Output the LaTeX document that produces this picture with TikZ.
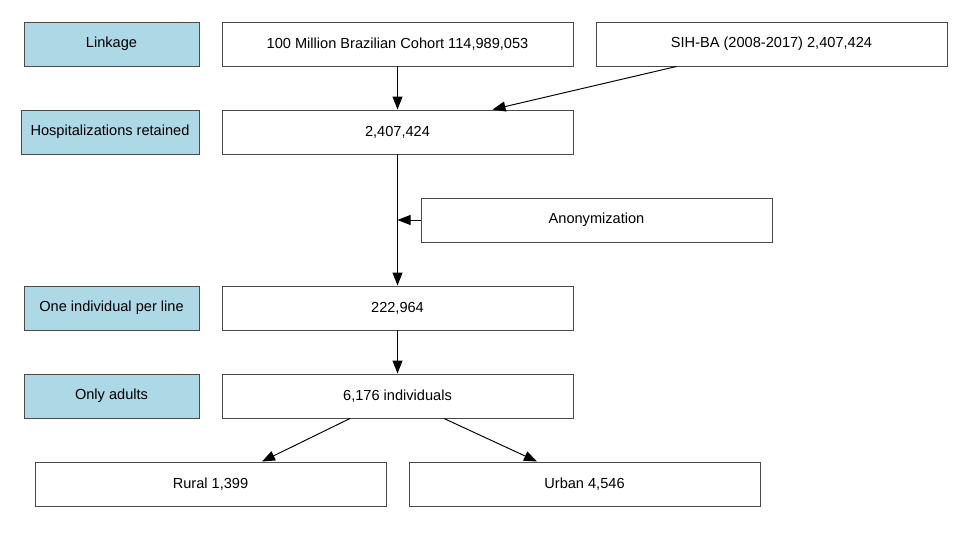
\documentclass[tikz,border=0pt]{standalone}
\usepackage{fontspec}
\setmainfont{Liberation Sans}
\usepackage{xcolor}
\usepackage{tikz}
\usetikzlibrary{arrows.meta,positioning,calc}
\definecolor{cohortStepFill}{HTML}{ADD8E6}
\definecolor{cohortInk}{HTML}{000000}
\definecolor{cohortEdge}{HTML}{4A4A4A}
\tikzset{
  stage/.style={
    rectangle,
    draw=cohortEdge,
    fill=white,
    line width=0.55pt,
    minimum width=7.02cm,
    minimum height=8.8mm,
    inner sep=0pt,
    align=center,
    text=cohortInk,
    font=\fontsize{8.3pt}{10pt}\selectfont
  },
  stepLabel/.style={
    rectangle,
    draw=cohortEdge,
    fill=cohortStepFill,
    line width=0.55pt,
    minimum width=3.5cm,
    minimum height=8.8mm,
    inner sep=0pt,
    align=center,
    text=cohortInk,
    font=\fontsize{8.3pt}{10pt}\selectfont
  },
  arrow/.style={
    -{Triangle[length=2.6mm,width=2mm]},
    line width=0.55pt,
    draw=cohortInk
  }
}

\begin{document}
\begin{tikzpicture}
  \useasboundingbox (0,0) rectangle (19.28,-11.2);
  % step labels
  \node[stepLabel] (linkage) at (2.23,-0.88) {Linkage};
  \node[stepLabel,minimum width=3.56cm] (retainedLabel) at (2.2,-2.64) {Hospitalizations retained};
  \node[stepLabel] (perLineLabel) at (2.23,-6.16) {One individual per line};
  \node[stepLabel] (adultsLabel) at (2.23,-7.92) {Only adults};
  % flow
  \node[stage] (cohort) at (7.95,-0.88) {100 Million Brazilian Cohort 114,989,053};
  \node[stage] (sih) at (15.43,-0.88) {SIH-BA (2008-2017) 2,407,424};
  \node[stage] (retained) at (7.95,-2.64) {2,407,424};
  \node[stage] (anon) at (11.93,-4.4) {Anonymization};
  \node[stage] (perLine) at (7.95,-6.16) {222,964};
  \node[stage] (adults) at (7.95,-7.92) {6,176 individuals};
  \node[stage] (rural) at (4.21,-9.68) {Rural 1,399};
  \node[stage] (urban) at (11.69,-9.68) {Urban 4,546};
  \draw[arrow] (cohort) -- (retained);
  \draw[arrow] ([xshift=-1.9cm]sih.south) -- ([xshift=1.9cm]retained.north);
  \draw[arrow] (retained) -- (perLine);
  \draw[arrow] (anon.west) -- (anon.west -| retained.south);
  \draw[arrow] (perLine) -- (adults);
  \draw[arrow] ([xshift=-0.95cm]adults.south) -- ([xshift=1.03cm]rural.north);
  \draw[arrow] ([xshift=0.93cm]adults.south) -- ([xshift=-0.95cm]urban.north);
\end{tikzpicture}
\end{document}
